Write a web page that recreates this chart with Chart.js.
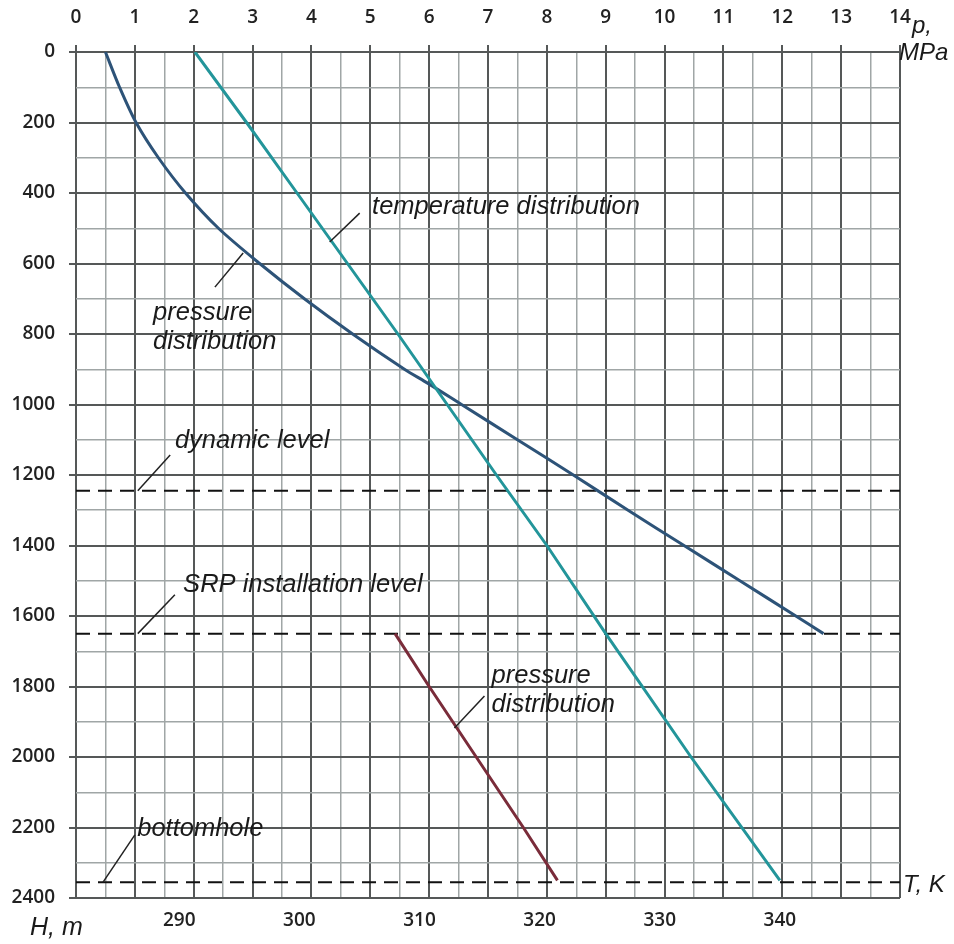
<!DOCTYPE html>
<html>
<head>
<meta charset="utf-8">
<script src="https://cdn.jsdelivr.net/npm/chart.js@4.4.1/dist/chart.umd.min.js"></script>
<style>
  html, body { margin: 0; padding: 0; background: #fff; }
  #wrap { width: 954px; height: 944px; position: relative; }
</style>
</head>
<body>
<div id="wrap"><canvas id="c"></canvas></div>
<script>
// Profundidad (m) y presión en el anular (MPa)
const depthP = [0, 100, 200, 300, 400, 500, 600, 700, 800, 900, 940, 1000, 1100, 1200, 1300, 1400, 1500, 1600, 1650];
const pressure = [0.5, 0.74, 1.02, 1.4, 1.86, 2.42, 3.12, 3.88, 4.7, 5.58, 5.98, 6.55, 7.5, 8.45, 9.38, 10.33, 11.28, 12.23, 12.7];

// Temperatura (K)
const depthT = [0, 200, 400, 600, 800, 1000, 1200, 1400, 1650, 2000, 2350];
const temperature = [291.3, 295.6, 299.8, 304.0, 308.2, 312.3, 316.4, 320.6, 325.5, 332.6, 340.0];

// Presión debajo de la bomba (MPa)
const depthP2 = [1650, 1800, 2000, 2200, 2350];
const pressure2 = [5.42, 6.0, 6.8, 7.6, 8.18];

// Niveles: dinámico, instalación SRP, fondo
const levels = [1245, 1650, 2355];

const tTicks = [290, 300, 310, 320, 330, 340];

const MAJOR = '#555858';
const MINOR = '#a0a6a6';

// Etiquetas en unidades de datos (p en MPa, h en m)
const notes = [
  { lines: ['temperature distribution'], p: 5.03, h: 460 },
  { lines: ['pressure', 'distribution'], p: 1.31, h: 760 },
  { lines: ['dynamic level'], p: 1.68, h: 1123 },
  { lines: ['SRP installation level'], p: 1.82, h: 1532 },
  { lines: ['pressure', 'distribution'], p: 7.06, h: 1790 },
  { lines: ['bottomhole'], p: 1.04, h: 2224 },
];
const leaders = [
  [[4.31, 539], [4.82, 457]],
  [[2.84, 570], [2.36, 667]],
  [[1.05, 1245], [1.6, 1143]],
  [[1.05, 1650], [1.68, 1540]],
  [[6.43, 1918], [6.94, 1827]],
  [[0.46, 2355], [1.0, 2221]],
];

const toXY = (xs, ys) => xs.map((x, i) => ({ x, y: ys[i] }));

const notesPlugin = {
  id: 'notes',
  afterDatasetsDraw(chart) {
    const { ctx, chartArea: a } = chart;
    const sx = chart.scales.p, sy = chart.scales.y;
    ctx.save();
    ctx.strokeStyle = '#222';
    ctx.lineWidth = 1.5;
    leaders.forEach(([s, e]) => {
      ctx.beginPath();
      ctx.moveTo(sx.getPixelForValue(s[0]), sy.getPixelForValue(s[1]));
      ctx.lineTo(sx.getPixelForValue(e[0]), sy.getPixelForValue(e[1]));
      ctx.stroke();
    });
    ctx.fillStyle = '#1a1a1a';
    ctx.font = 'italic 25.5px "Liberation Sans", Arial, sans-serif';
    ctx.textAlign = 'left';
    ctx.textBaseline = 'alphabetic';
    notes.forEach((n) => {
      const x = sx.getPixelForValue(n.p);
      const y = sy.getPixelForValue(n.h);
      n.lines.forEach((t, i) => ctx.fillText(t, x, y + i * 29));
    });
    // títulos de ejes
    ctx.font = 'italic 24px "Liberation Sans", Arial, sans-serif';
    ctx.fillText('p,', a.right + 12, 33);
    ctx.fillText('MPa', a.right - 1, 60);
    ctx.fillText('T, K', a.right + 3, 892);
    ctx.font = 'italic 25px "Liberation Sans", Arial, sans-serif';
    ctx.fillText('H, m', 30, 935);
    ctx.restore();
  },
};

const tickFont = { family: '"Open Sans", sans-serif', size: 19, weight: '600' };

new Chart(document.getElementById('c'), {
  type: 'line',
  data: {
    datasets: [
      {
        label: 'pressure distribution (pump)',
        data: toXY(pressure2, depthP2),
        xAxisID: 'p', yAxisID: 'y',
        borderColor: '#7a2c3a', borderWidth: 3, pointRadius: 0, tension: 0,
      },
      {
        label: 'temperature distribution',
        data: toXY(temperature, depthT),
        xAxisID: 't', yAxisID: 'y',
        borderColor: '#23959a', borderWidth: 3, pointRadius: 0, tension: 0,
      },
      {
        label: 'pressure distribution',
        data: toXY(pressure, depthP),
        xAxisID: 'p', yAxisID: 'y',
        borderColor: '#2d5378', borderWidth: 3, pointRadius: 0, tension: 0.3,
      },
      ...levels.map((h) => ({
        label: 'level ' + h,
        data: [{ x: 0, y: h }, { x: 14, y: h }],
        xAxisID: 'p', yAxisID: 'y',
        borderColor: '#111', borderWidth: 2, borderDash: [14, 8], pointRadius: 0,
      })),
    ],
  },
  options: {
    responsive: true,
    maintainAspectRatio: false,
    animation: false,
    layout: { padding: { left: 0, right: 54, top: 0, bottom: 0 } },
    plugins: { legend: { display: false }, tooltip: { enabled: false } },
    scales: {
      p: {
        type: 'linear', position: 'top', min: 0, max: 14,
        afterFit: (s) => { s.height = 52; },
        border: { display: false },
        grid: {
          color: (c) => (c.tick.value % 1 === 0 ? MAJOR : MINOR),
          lineWidth: (c) => (c.tick.value % 1 === 0 ? 2 : 1.5),
          tickColor: (c) => (c.tick.value % 1 === 0 ? MAJOR : 'rgba(0,0,0,0)'),
          tickLength: 7,
        },
        ticks: {
          stepSize: 0.5, autoSkip: false, maxRotation: 0, padding: 16,
          color: '#222', font: tickFont,
          callback: (v) => (v % 1 === 0 ? v : ''),
        },
      },
      t: {
        type: 'linear', position: 'bottom', min: 281.4, max: 350,
        afterFit: (s) => { s.height = 46; },
        afterBuildTicks: (s) => { s.ticks = tTicks.map((v) => ({ value: v })); },
        border: { display: false },
        grid: { display: false, drawTicks: false },
        ticks: { autoSkip: false, maxRotation: 0, padding: 11, color: '#222', font: tickFont },
      },
      y: {
        type: 'linear', position: 'left', min: 0, max: 2400, reverse: true,
        afterFit: (s) => { s.width = 76; },
        border: { display: false },
        grid: {
          color: (c) => (c.tick.value % 200 === 0 ? MAJOR : MINOR),
          lineWidth: (c) => (c.tick.value % 200 === 0 ? 2 : 1.5),
          tickColor: (c) => (c.tick.value % 200 === 0 ? MAJOR : 'rgba(0,0,0,0)'),
          tickLength: 7,
        },
        ticks: {
          stepSize: 100, autoSkip: false, padding: 14,
          color: '#222', font: tickFont,
          callback: (v) => (v % 200 === 0 ? v : ''),
        },
      },
    },
  },
  plugins: [notesPlugin],
});
</script>
</body>
</html>
